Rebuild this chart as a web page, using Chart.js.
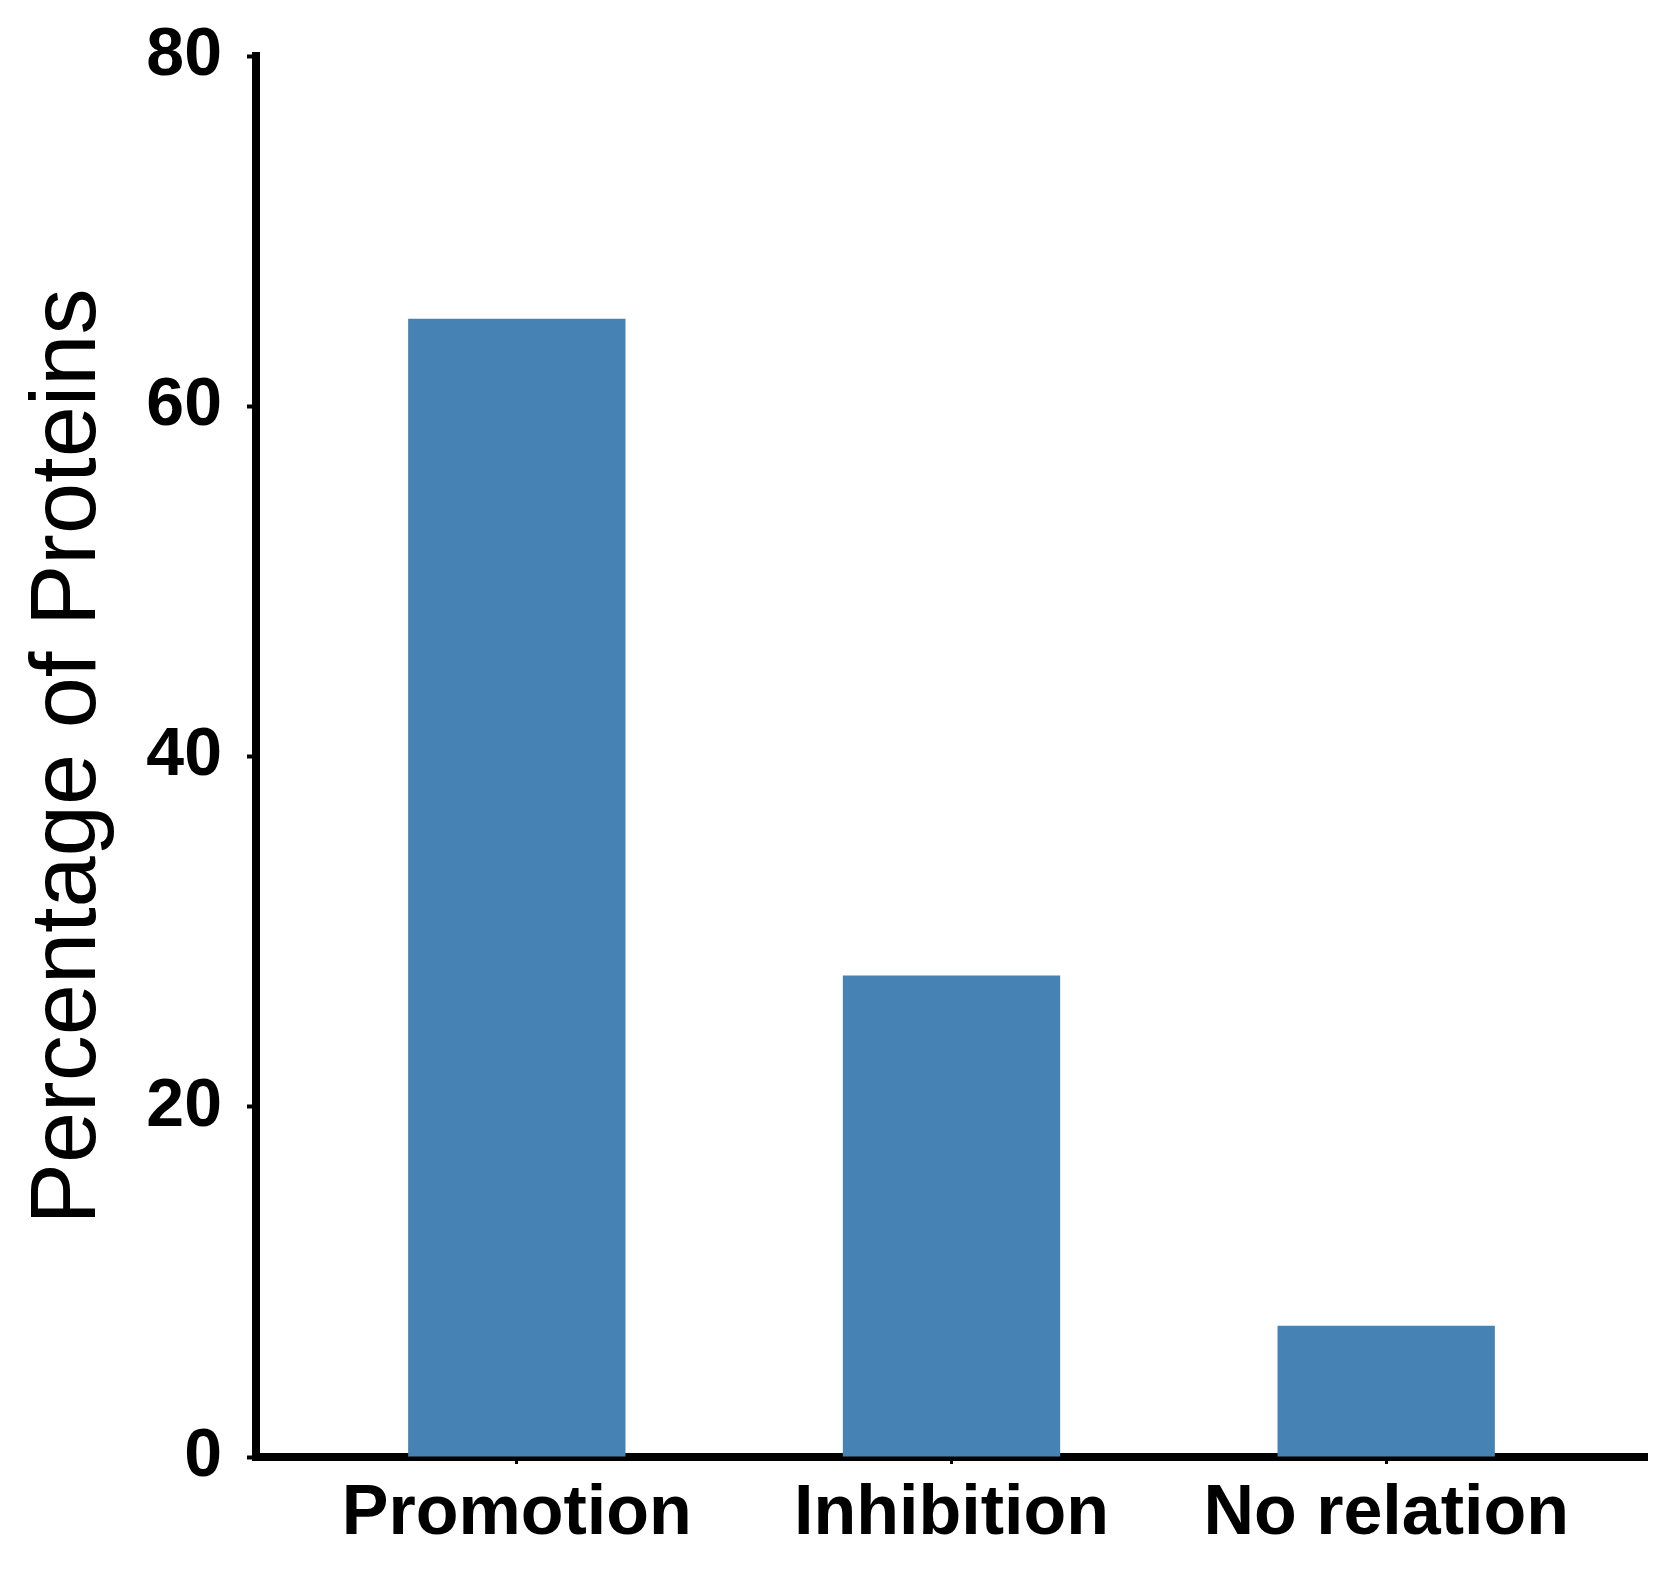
<!DOCTYPE html>
<html><head><meta charset="utf-8">
<script src="https://cdn.jsdelivr.net/npm/chart.js@4"></script>
<style>html,body{margin:0;padding:0;background:#fff;}#wrap{width:1679px;height:1580px;}</style>
</head><body><div id="wrap"><canvas id="c" width="1679" height="1580"></canvas></div>
<script>
const categories = ['Promotion', 'Inhibition', 'No relation'];
const values = [65, 27.5, 7.5];
const yTicks = [0, 20, 40, 60, 80];
const yTitle = 'Percentage of Proteins';

const barColor = '#4682b4';

new Chart(document.getElementById('c'), {
  type: 'bar',
  data: {
    datasets: [{
      data: categories.map((c, i) => ({x: i, y: values[i]})),
      backgroundColor: barColor,
      categoryPercentage: 1,
      barPercentage: 0.5
    }]
  },
  options: {
    responsive: false,
    animation: false,
    layout: {padding: {left: 14, right: 32, top: 56, bottom: 20}},
    plugins: {legend: {display: false}, tooltip: {enabled: false}},
    scales: {
      x: {
        type: 'linear', min: -0.6, max: 2.6, offset: false,
        afterBuildTicks: s => { s.ticks = categories.map((c, i) => ({value: i})); },
        afterFit: s => { s.height = 103; s.paddingLeft = 0; s.paddingRight = 0; },
        ticks: {callback: v => categories[v], font: {family: 'Liberation Sans', weight: 'bold', size: 70}, color: '#000', padding: 9, maxRotation: 0, autoSkip: false},
        grid: {display: true, offset: false, drawOnChartArea: false, drawTicks: true, tickLength: 7, tickWidth: 3, tickColor: '#000'},
        border: {display: true, color: '#000', width: 8}
      },
      y: {
        min: 0, max: 80,
        afterBuildTicks: s => { s.ticks = yTicks.map(v => ({value: v})); },
        afterFit: s => { s.width = 242; s.paddingTop = 0; s.paddingBottom = 0; },
        ticks: {font: {family: 'Liberation Sans', weight: 'bold', size: 68}, color: '#000', padding: 25},
        grid: {display: true, drawOnChartArea: false, drawTicks: true, tickLength: 9, tickWidth: 4, tickColor: '#000'},
        border: {display: true, color: '#000', width: 8},
        title: {display: true, text: yTitle, color: '#000', font: {family: 'Liberation Sans', size: 92}, padding: {top: 0, bottom: 0}}
      }
    }
  }
});
</script></body></html>
